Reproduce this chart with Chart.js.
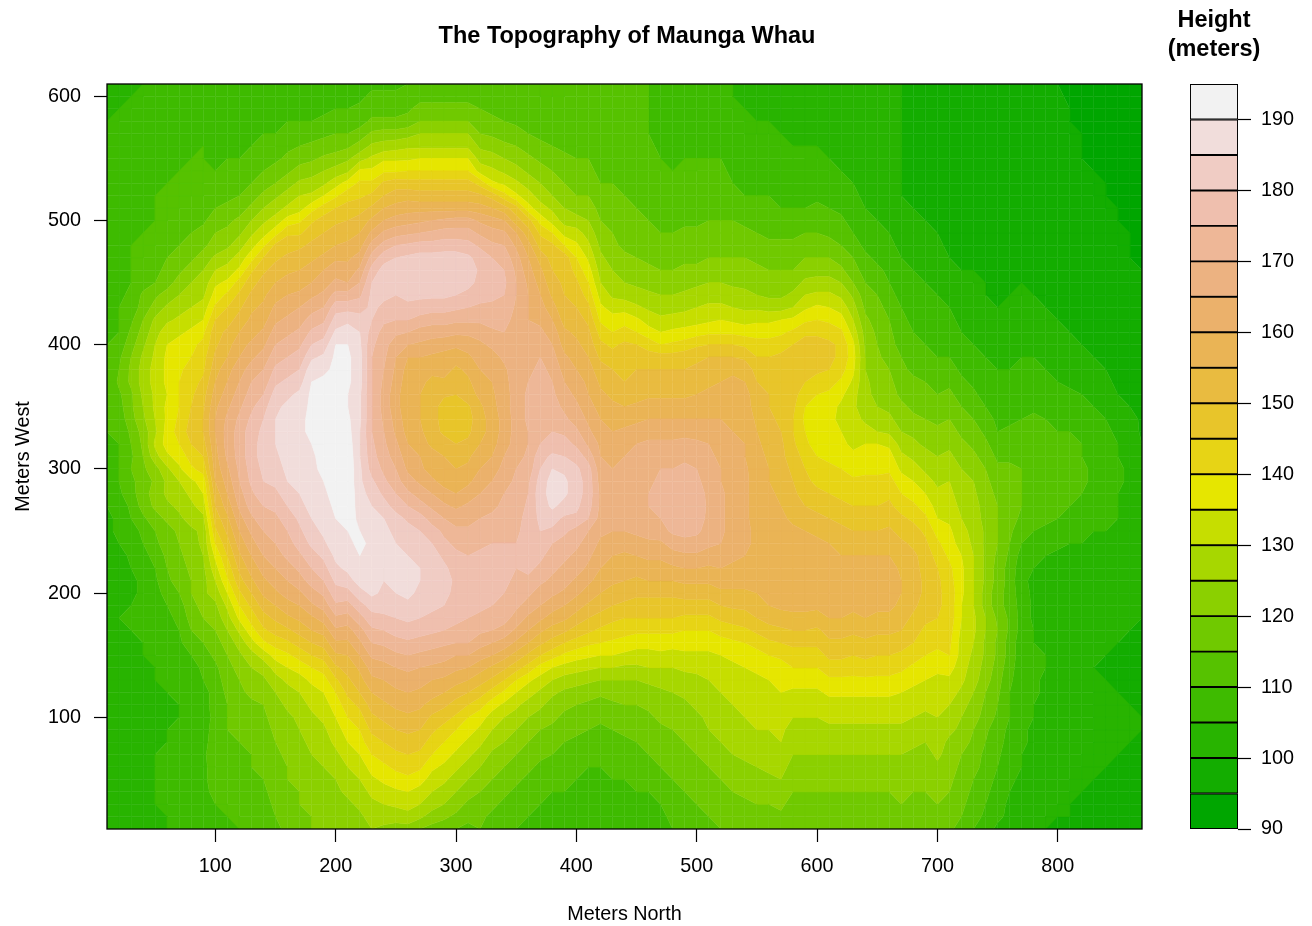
<!DOCTYPE html>
<html><head><meta charset="utf-8">
<style>html,body{margin:0;padding:0;background:#fff;width:1312px;height:926px;overflow:hidden}canvas{position:absolute;top:0}</style>
<script src="https://cdn.jsdelivr.net/npm/chart.js@4"></script>
</head><body>
<canvas id="map" width="1312" height="926" style="left:0"></canvas>
<canvas id="key" width="180" height="926" style="left:1124px"></canvas>
<script>
const northTicks=[100,200,300,400,500,600,700,800];
const westTicks=[100,200,300,400,500,600];
const keyTicks=[90,100,110,120,130,140,150,160,170,180,190];
const levels=[90,95,100,105,110,115,120,125,130,135,140,145,150,155,160,165,170,175,180,185,190,195];
const gridStep=10;
// one row per north position (10 m ... 870 m), one value per west position (10 m ... 610 m)
const heights=[
[100,100,101,101,101,101,101,100,100,100,101,101,102,102,102,102,103,104,103,102,101,101,102,103,104,104,105,107,107,107,108,108,110,110,110,110,110,110,110,110,108,108,108,107,107,108,108,108,108,108,107,107,107,107,106,106,105,105,104,104,103],
[101,101,102,102,102,102,102,101,101,101,102,102,103,103,103,103,104,105,104,103,102,102,103,105,106,106,107,109,110,110,110,110,111,112,113,114,116,115,114,112,110,110,110,109,108,109,109,109,109,108,108,108,108,107,107,106,106,105,105,104,104],
[102,102,103,103,103,103,103,102,102,102,103,103,104,104,104,104,105,106,105,104,104,105,106,107,108,110,111,113,114,115,114,115,116,118,119,119,121,121,120,118,116,114,112,111,110,110,110,110,109,109,109,109,108,108,107,107,106,106,105,105,104],
[103,103,104,104,104,104,104,103,103,103,103,104,104,104,105,105,106,107,106,106,106,107,108,110,111,114,117,118,117,119,120,121,122,124,125,126,127,127,126,124,122,120,117,116,113,111,110,110,110,109,109,109,109,108,108,107,107,106,106,105,105],
[104,104,105,105,105,105,105,104,104,103,104,104,105,105,105,106,107,108,108,108,109,110,112,114,115,118,121,122,121,123,128,131,129,130,131,131,132,132,131,130,128,126,122,119,115,114,112,110,110,110,110,110,109,109,108,107,107,107,106,106,105],
[105,105,105,106,106,106,106,105,105,104,104,105,105,106,106,107,108,109,110,112,114,115,116,117,118,121,124,126,126,129,134,137,137,136,136,135,136,136,136,135,133,129,126,122,118,116,115,113,111,110,110,110,110,109,108,108,108,107,107,106,106],
[105,106,106,107,107,107,107,106,106,105,105,106,106,107,108,109,110,111,113,115,117,118,119,120,121,124,126,128,130,134,137,140,142,141,140,140,140,139,138,137,134,131,128,125,122,119,117,115,113,111,110,110,110,110,109,109,108,108,107,107,106],
[106,107,107,108,108,108,108,107,107,106,106,107,108,108,110,113,115,117,118,120,120,121,122,123,124,127,129,131,134,139,142,145,147,146,145,144,143,142,140,139,136,133,130,127,125,122,119,117,115,113,111,110,110,110,110,109,109,108,108,107,107],
[107,108,108,109,109,109,109,108,108,107,108,108,110,111,113,115,118,120,122,124,123,124,125,126,126,129,132,135,137,142,145,148,150,150,149,148,146,144,143,141,139,135,132,129,127,125,122,119,117,114,112,110,110,110,110,110,109,109,108,107,107],
[108,109,110,111,112,112,113,113,112,112,112,112,113,114,116,118,120,122,124,127,130,133,136,140,144,147,150,152,155,157,158,159,160,160,159,157,155,153,151,149,148,145,141,137,134,130,126,122,120,118,115,113,112,110,109,108,108,107,107,107,107],
[109,110,110,111,111,112,113,114,115,115,115,116,117,118,120,122,125,128,131,135,139,142,145,148,151,154,157,160,162,164,166,167,167,166,164,162,160,158,155,153,151,148,145,141,136,132,128,124,121,119,116,114,112,111,110,109,108,108,107,107,107],
[110,110,111,112,112,113,114,115,116,117,118,119,120,122,124,127,131,136,140,144,148,151,154,157,160,163,166,168,170,171,172,172,172,171,169,167,165,163,160,158,155,152,149,146,142,136,132,128,124,121,118,115,113,112,110,109,108,108,108,107,107],
[110,111,112,113,114,115,115,116,117,118,119,121,123,125,128,133,138,142,146,150,154,157,160,163,166,169,172,174,176,177,178,178,178,176,174,172,170,167,164,161,158,156,154,151,148,144,138,133,129,125,121,118,115,113,111,110,109,108,108,107,107],
[111,112,113,114,115,116,116,117,118,119,120,122,124,127,132,139,144,148,152,156,159,162,165,168,170,173,175,178,180,181,182,182,181,180,178,175,172,170,167,164,161,158,156,154,152,149,145,139,133,129,125,121,118,115,113,111,110,109,108,108,108],
[114,115,116,117,118,118,119,120,121,122,123,125,128,132,137,142,147,151,155,159,162,165,168,170,172,174,176,179,181,183,184,185,185,185,184,182,179,176,173,170,167,164,161,158,155,152,149,146,138,132,128,124,120,117,114,112,110,109,108,108,108],
[116,117,118,119,120,120,121,122,123,124,126,128,131,135,139,144,149,154,158,162,165,168,171,173,175,177,180,182,185,186,187,188,188,188,186,184,181,178,175,172,169,166,163,160,157,154,151,148,144,137,131,127,123,119,116,114,111,110,109,108,108],
[118,119,120,120,121,122,123,124,125,126,128,130,133,137,142,147,152,156,160,164,168,171,174,177,179,181,183,185,186,187,188,189,189,189,188,186,183,180,177,174,171,168,165,161,158,155,152,149,144,139,133,130,126,122,118,115,112,110,109,108,108],
[120,120,121,122,123,124,125,126,128,129,131,133,136,140,145,150,155,159,164,168,172,175,178,181,183,185,187,188,188,189,189,190,191,191,191,191,190,188,184,180,176,172,168,164,160,157,154,151,148,144,138,131,127,123,119,116,113,110,109,108,108],
[120,121,122,123,124,125,126,128,129,131,133,135,138,142,147,152,157,162,167,171,175,178,181,184,186,187,188,189,190,191,192,192,192,192,192,191,191,189,186,182,178,174,170,166,163,160,156,153,150,147,142,135,129,125,121,117,114,111,109,108,108],
[121,122,123,124,125,127,129,131,133,135,137,140,144,149,154,159,164,169,174,178,181,184,186,188,188,190,191,192,193,194,195,195,195,194,193,192,192,191,191,190,186,182,178,172,166,163,159,155,152,149,145,139,133,127,122,118,115,112,110,109,108],
[122,123,124,126,128,130,132,135,137,140,143,146,149,152,155,159,163,168,173,178,183,186,188,189,190,192,193,194,194,194,194,193,192,191,190,190,191,191,191,190,187,184,178,172,165,162,159,156,153,150,147,143,137,129,124,119,115,112,110,109,109],
[123,124,126,128,130,132,135,138,140,143,146,150,153,156,160,164,168,173,178,183,187,188,190,191,190,189,188,187,186,186,185,185,185,186,186,186,187,187,187,186,185,182,178,174,170,166,162,158,155,152,148,144,141,136,128,122,117,113,111,109,109],
[125,127,129,131,134,137,140,143,146,149,152,155,159,162,166,170,174,178,182,186,188,188,189,189,188,187,185,183,181,178,177,176,175,175,175,175,175,175,175,176,178,180,181,181,180,177,172,167,161,156,151,146,141,136,131,126,121,116,113,111,109],
[124,127,130,133,136,139,142,145,148,151,154,157,160,163,167,171,175,179,182,184,185,185,186,186,186,185,182,179,176,174,172,171,170,169,168,168,169,170,171,172,173,176,179,181,182,182,178,172,166,160,155,150,146,139,134,127,122,116,113,111,109],
[123,127,131,134,138,141,144,147,150,153,156,159,162,165,169,173,177,180,183,185,186,186,186,185,184,182,178,175,172,170,168,166,164,163,162,162,163,164,165,167,171,175,178,180,182,182,180,175,168,162,157,152,148,139,134,128,122,116,113,111,109],
[123,128,132,135,139,142,145,148,151,154,157,160,163,166,170,174,178,181,184,186,186,186,185,184,182,179,175,171,167,164,162,160,158,157,156,156,157,158,160,165,170,175,179,181,183,183,181,176,169,163,158,153,147,140,134,129,123,117,114,112,110],
[120,126,130,133,137,141,144,147,150,153,156,159,162,165,169,173,177,180,183,184,185,185,184,182,180,177,172,168,164,161,160,157,156,155,155,155,156,158,160,164,168,173,178,181,183,184,182,177,170,164,158,152,147,140,135,129,125,120,117,113,111],
[118,123,127,130,133,136,140,143,146,149,153,157,160,164,168,172,176,179,181,182,183,183,182,180,177,173,169,165,161,158,157,154,152,153,153,154,154,156,159,163,167,172,177,181,183,184,182,177,171,165,158,152,147,140,135,129,125,120,117,113,111],
[117,121,125,128,131,134,137,140,143,147,151,155,159,163,167,171,175,178,180,181,182,181,179,176,174,170,166,162,158,156,155,152,149,147,147,151,154,157,158,162,167,172,177,181,183,184,182,178,172,166,158,152,147,140,135,129,125,120,117,113,111],
[115,119,122,125,128,131,134,137,140,144,148,152,157,161,165,170,174,176,178,179,179,178,176,174,171,168,164,160,157,155,153,150,147,145,146,150,153,154,157,161,166,171,176,180,182,184,182,178,172,167,158,152,147,140,135,129,125,120,117,113,111],
[114,116,119,122,125,128,131,134,137,140,145,150,155,160,165,170,173,175,177,178,178,177,175,173,171,168,166,162,159,156,154,151,149,148,149,153,154,156,159,162,166,171,175,179,181,183,181,177,172,167,158,152,147,140,135,129,125,120,117,113,111],
[115,116,118,120,122,125,128,131,134,137,142,147,152,157,162,167,171,174,176,177,177,177,176,174,172,170,167,165,162,160,158,155,153,153,154,156,158,160,162,164,167,171,174,177,179,179,178,174,169,164,157,151,143,133,128,124,120,117,115,113,111],
[113,114,116,118,120,122,124,127,130,133,137,143,149,154,160,165,170,173,175,176,177,177,176,175,173,171,169,167,165,162,160,158,157,157,158,159,160,161,163,166,169,172,174,176,177,177,175,171,167,162,155,148,136,131,127,123,119,116,114,112,111],
[111,112,114,116,118,120,122,125,127,130,134,139,145,151,157,163,168,172,174,175,176,176,176,175,174,172,171,170,168,167,165,163,162,162,163,163,163,164,166,168,170,172,174,175,176,175,173,170,166,160,152,142,134,129,125,121,118,115,113,112,110],
[110,111,112,114,116,118,120,122,125,128,131,135,140,147,153,159,164,168,171,173,174,175,175,175,174,173,172,172,171,170,168,167,167,167,167,167,168,168,168,168,168,168,169,170,170,169,167,164,160,152,147,136,131,127,123,120,117,114,113,111,110],
[109,110,111,112,114,116,118,120,122,125,128,132,136,143,149,155,160,164,168,171,174,176,177,177,177,177,176,175,174,172,171,170,170,171,171,171,170,169,168,167,166,165,165,165,164,162,160,157,152,147,137,132,128,124,121,118,115,113,112,111,110],
[108,109,110,111,112,114,116,118,120,123,126,129,133,138,145,151,156,161,165,168,171,174,176,178,180,181,182,183,182,180,178,175,173,172,172,172,172,171,170,168,166,164,162,160,158,156,153,148,144,138,132,128,125,122,119,116,114,112,111,110,110],
[108,108,109,110,111,113,115,117,119,121,123,126,130,135,142,148,153,158,162,166,169,171,173,175,179,182,186,187,187,185,181,177,175,173,172,171,170,169,167,165,163,160,157,154,152,150,148,146,140,133,129,125,122,120,118,115,113,112,111,110,110],
[107,108,109,110,111,112,113,115,117,119,121,124,128,133,139,145,151,156,160,164,167,169,171,173,176,179,183,186,186,184,180,177,174,171,169,167,165,163,161,158,156,153,151,150,149,149,148,140,133,128,125,122,120,118,116,114,113,112,111,110,110],
[107,107,108,109,110,111,112,114,116,118,120,123,127,132,137,143,148,153,157,161,164,167,169,171,173,179,181,182,182,181,178,174,171,168,166,164,162,160,158,156,154,152,150,148,146,143,140,136,132,127,123,120,118,116,115,114,113,112,112,112,112],
[106,107,108,108,109,110,112,113,115,117,119,122,126,131,136,141,146,150,154,158,161,164,166,168,170,175,177,178,178,177,173,169,166,164,162,160,159,157,155,153,151,149,146,143,140,137,134,131,128,125,123,120,118,116,115,114,113,113,112,112,111],
[105,106,107,108,109,110,111,113,114,116,118,121,125,130,135,140,144,148,152,155,158,160,162,164,166,168,169,169,168,167,165,164,162,160,158,156,154,152,149,146,143,139,136,133,130,128,126,124,122,120,118,117,115,114,113,113,112,112,112,111,111],
[105,106,107,108,110,111,112,113,115,117,119,122,125,130,135,139,143,146,150,153,156,158,160,162,165,167,167,167,166,165,163,162,160,158,156,154,152,150,147,144,140,137,133,129,127,125,123,121,120,118,117,116,115,114,113,112,112,112,111,111,111],
[105,106,107,109,110,112,113,114,116,118,120,122,125,129,134,138,142,145,149,152,155,157,159,162,165,167,168,168,167,166,165,163,161,158,155,152,150,149,148,146,142,138,133,128,125,123,121,119,118,117,116,115,114,113,112,112,112,112,111,111,111],
[106,107,108,110,111,112,114,115,117,119,120,122,125,129,133,137,141,145,148,151,154,157,160,163,166,168,169,169,168,167,166,165,162,159,156,153,151,150,148,145,140,136,131,127,124,122,120,118,117,116,115,114,113,112,112,112,112,111,111,111,111],
[107,108,109,110,112,113,115,116,118,119,121,123,126,130,133,137,141,145,148,151,155,158,161,164,167,169,170,170,169,168,167,166,163,160,157,154,152,150,147,143,137,133,129,126,123,121,119,118,116,115,114,113,112,111,111,111,110,110,110,110,110],
[108,109,110,112,113,115,116,118,119,121,122,124,127,130,134,137,141,145,148,151,155,158,161,164,168,170,172,172,171,170,168,166,163,160,157,154,152,150,147,140,135,131,128,125,122,120,118,117,115,114,113,112,111,110,110,109,109,109,109,109,109],
[110,111,112,113,115,116,118,119,120,122,123,125,127,130,133,137,141,145,148,151,155,159,163,167,171,173,174,173,172,170,168,166,163,160,157,154,152,150,147,141,136,132,128,125,122,120,118,116,115,114,113,112,111,110,109,109,108,108,108,107,107],
[112,113,114,115,116,118,119,120,122,123,124,126,128,131,134,137,140,144,148,152,156,160,164,168,172,174,175,174,173,171,169,167,163,160,157,154,152,150,148,142,137,132,129,126,123,121,119,117,116,114,113,112,111,110,110,109,108,108,107,107,107],
[113,114,115,116,118,119,120,122,123,124,126,127,129,131,134,137,140,144,148,152,156,160,164,168,171,172,173,172,171,170,168,166,163,160,158,155,153,151,149,144,138,133,130,127,124,121,119,117,116,114,113,112,111,110,110,109,108,108,107,106,106],
[114,115,116,118,119,120,122,123,125,126,127,129,130,132,134,137,140,144,148,152,156,159,163,166,168,169,169,169,168,167,166,165,162,160,158,156,154,152,150,145,139,134,131,128,125,122,120,118,116,115,114,113,112,111,110,109,109,108,107,106,105],
[115,116,117,119,120,122,123,125,126,128,129,130,131,133,135,138,142,146,150,154,157,160,163,165,166,166,166,166,165,165,164,163,161,160,159,157,155,153,150,145,139,135,131,128,125,122,120,118,116,115,114,113,112,111,110,109,108,107,106,106,105],
[115,116,118,120,121,123,125,126,128,129,130,131,133,134,136,139,143,147,151,154,157,159,161,162,163,163,163,163,163,163,162,161,160,159,158,158,156,154,150,145,139,134,130,127,124,122,120,118,116,115,113,112,110,109,108,107,106,106,105,105,105],
[116,117,119,121,122,124,126,127,129,130,131,132,133,135,137,140,144,148,151,154,157,159,160,161,161,161,161,161,161,161,160,160,159,158,157,157,155,153,149,144,138,133,129,126,124,122,120,118,116,114,112,110,109,108,107,106,105,105,105,104,104],
[116,118,120,122,123,125,127,128,130,131,132,133,134,136,138,142,146,150,153,155,157,158,159,159,159,158,158,158,158,157,157,156,155,154,153,152,150,148,145,142,138,134,129,125,123,121,119,117,115,114,112,110,109,108,107,106,105,105,104,104,104],
[117,118,120,122,124,126,128,129,130,132,133,134,135,137,140,144,148,152,155,157,158,159,159,159,158,157,156,156,155,155,154,153,152,151,150,150,149,148,145,142,138,134,128,124,122,120,118,116,114,113,111,110,109,108,107,106,105,105,104,104,103],
[117,119,121,123,125,127,128,130,131,132,134,135,136,138,141,145,149,153,156,158,159,159,159,158,157,156,155,154,153,152,151,151,150,149,149,149,149,148,146,143,139,135,128,124,122,120,118,116,114,112,110,109,108,107,106,105,105,104,104,103,103],
[116,117,118,120,122,123,125,126,128,130,132,134,137,140,143,146,150,154,156,158,159,159,159,158,156,154,152,151,150,149,148,146,145,145,146,147,148,148,147,145,141,136,130,126,123,120,118,116,114,112,110,109,108,107,106,105,104,104,103,103,103],
[116,117,118,120,122,123,125,126,128,130,132,134,137,140,143,146,150,154,156,158,159,159,158,157,155,153,150,148,146,145,143,141,140,139,140,142,145,147,148,147,144,139,134,130,126,123,120,117,115,113,110,109,108,107,105,105,104,104,103,103,103],
[116,117,118,120,122,123,125,126,128,130,132,134,137,140,143,146,149,153,156,158,158,158,157,156,154,151,149,146,144,142,140,138,137,137,138,140,143,146,147,147,144,140,136,131,127,123,120,117,115,113,111,109,108,107,105,105,104,104,103,103,102],
[116,118,119,120,121,123,125,126,129,131,133,136,139,143,146,149,152,155,157,158,158,157,156,155,153,150,148,145,143,141,139,137,136,136,137,139,142,145,146,146,143,139,135,131,127,123,120,117,114,112,110,108,107,106,105,104,104,103,103,102,102],
[116,118,119,120,121,123,125,126,129,131,133,136,139,143,146,149,152,155,157,158,158,157,155,153,151,149,146,144,142,140,138,136,135,134,134,136,139,142,144,144,141,137,133,129,125,121,118,115,113,111,109,108,106,105,104,104,103,103,102,102,101],
[116,118,119,120,121,123,125,126,129,131,133,136,139,142,145,148,151,154,156,157,158,157,155,153,150,148,145,143,141,138,136,134,133,132,131,132,134,136,137,136,133,130,127,124,120,117,115,112,110,108,107,106,105,104,103,103,102,102,101,101,101],
[116,118,119,120,121,123,125,126,129,131,133,136,139,143,146,149,152,155,157,158,158,157,155,153,150,147,145,143,141,139,137,135,132,129,127,126,126,125,125,124,123,121,119,117,115,113,111,109,107,106,105,104,103,103,102,102,101,101,101,101,101],
[117,118,119,120,122,123,125,127,129,131,133,136,139,142,145,148,151,154,156,157,158,157,155,153,150,147,145,143,141,139,137,135,130,127,125,124,123,122,121,120,119,118,116,115,113,111,109,107,106,105,104,103,103,102,102,101,101,101,101,101,101],
[117,118,119,120,122,123,125,127,129,131,133,136,139,142,145,148,151,154,156,157,158,157,155,153,151,148,146,144,142,139,137,134,129,126,124,122,121,120,118,117,116,115,114,112,110,109,107,106,105,104,103,102,102,101,101,101,101,101,101,101,100],
[117,118,120,122,123,124,125,127,129,131,133,135,138,141,144,147,150,152,154,155,155,154,153,151,148,146,143,140,137,134,131,128,125,123,121,119,118,116,115,113,112,111,110,108,107,106,105,104,103,102,101,100,100,100,100,100,100,100,100,100,100],
[117,118,119,120,121,123,124,126,128,130,132,134,136,139,142,145,147,149,151,152,152,152,151,149,147,144,141,138,135,132,129,126,124,121,119,117,116,114,113,111,110,109,108,107,106,105,104,103,102,101,100,99,98,98,98,98,98,98,98,98,98],
[117,118,119,120,121,122,123,125,127,129,131,133,135,137,140,142,144,146,148,149,149,148,148,146,144,141,138,135,132,129,127,124,122,120,118,116,115,113,112,110,109,108,107,106,105,104,103,102,101,100,99,98,98,98,97,97,97,97,97,97,97],
[117,118,120,121,122,124,126,127,128,130,131,133,134,136,139,141,143,145,146,146,146,145,143,141,138,135,133,131,129,127,125,123,121,119,117,115,113,112,110,109,108,107,106,105,104,103,102,101,100,99,98,98,97,97,97,97,96,96,96,96,96],
[116,118,119,120,121,122,123,124,126,128,130,132,134,137,140,141,142,143,143,143,142,141,139,137,136,134,132,131,130,128,126,124,122,120,118,116,114,112,110,108,107,106,105,104,103,102,100,99,99,98,97,97,96,96,96,96,96,96,96,96,96],
[113,115,116,117,118,119,120,122,124,125,127,129,131,132,133,133,134,135,135,136,136,136,135,133,131,130,129,128,127,125,123,121,119,117,115,113,111,109,107,106,105,104,103,102,101,100,99,99,98,97,97,96,96,96,96,96,96,96,96,96,96],
[110,112,113,114,115,116,117,119,120,122,123,125,127,128,129,130,131,131,130,130,130,130,130,129,129,128,127,126,125,123,121,119,117,115,113,111,109,107,106,105,104,103,102,101,100,100,99,99,98,98,97,97,97,96,96,96,96,96,96,96,96],
[107,109,110,111,112,114,114,115,116,118,119,120,122,123,124,124,125,125,123,123,124,124,124,124,124,123,123,122,121,120,118,116,114,112,110,108,107,106,105,104,103,102,101,100,100,99,99,98,98,97,97,97,96,96,96,96,96,96,96,96,96],
[104,106,107,108,109,110,111,112,112,114,115,116,117,118,119,119,120,119,117,117,118,118,119,120,120,120,120,119,118,116,114,112,110,109,108,107,106,105,104,103,102,101,100,99,99,98,98,97,97,97,96,96,96,96,96,96,96,96,96,96,96],
[103,104,104,105,106,107,107,108,109,110,110,110,111,112,113,113,114,114,113,113,113,113,114,115,116,117,118,118,117,116,114,113,111,109,108,107,106,105,104,103,102,101,100,100,99,98,98,97,97,97,96,96,96,96,96,96,96,96,96,96,96],
[101,102,103,104,104,105,105,106,106,107,107,107,107,107,107,107,108,108,108,107,106,107,108,110,112,114,115,115,115,115,114,113,112,110,109,108,107,106,105,104,103,102,101,100,100,99,98,98,97,97,97,96,96,96,96,96,96,96,96,96,96],
[100,101,101,102,102,103,103,104,104,105,105,106,106,106,106,105,105,104,104,104,104,105,106,108,110,112,113,114,114,114,114,113,112,111,109,108,107,106,105,104,103,102,101,100,99,99,98,98,97,97,96,96,96,96,96,96,96,96,96,96,96],
[100,100,101,101,101,102,102,102,103,103,104,104,104,105,105,104,104,103,103,103,103,104,105,107,109,111,112,113,113,113,113,112,111,110,108,107,106,105,104,103,102,101,100,99,99,98,98,97,97,96,96,96,96,96,96,96,96,96,96,96,96],
[99,100,100,101,101,101,102,102,102,102,102,103,103,103,103,103,103,103,103,103,103,103,104,106,108,110,111,112,112,112,112,111,110,109,107,106,105,104,103,102,101,100,99,99,98,98,97,97,97,96,96,96,96,96,96,96,96,96,96,96,95],
[99,100,100,100,100,101,101,101,101,102,102,102,102,102,102,102,102,102,102,102,102,102,104,105,107,109,110,111,112,112,112,111,110,108,107,106,104,103,102,101,100,99,99,98,98,97,97,97,96,96,96,96,96,96,96,96,95,95,95,94,94],
[98,99,99,100,100,100,100,101,101,101,101,101,101,101,101,101,101,101,101,102,102,102,104,105,106,108,109,110,111,111,110,110,109,107,106,105,103,102,101,100,99,99,98,98,97,97,97,96,96,96,96,96,96,96,95,95,95,94,94,94,94],
[98,98,99,99,100,100,100,100,100,100,100,100,100,100,101,101,101,101,101,101,101,102,103,104,105,107,108,109,109,109,109,108,107,106,105,103,102,101,100,99,98,98,97,97,97,96,96,96,96,96,96,95,95,95,94,94,94,94,94,94,94],
[97,98,98,99,99,100,100,100,100,100,100,100,100,99,100,100,101,101,101,101,101,101,103,104,105,106,107,107,108,108,107,106,106,105,103,102,101,100,99,98,97,97,97,96,96,96,96,96,96,96,95,95,95,94,94,94,94,94,94,94,94],
[97,97,98,98,99,99,100,100,100,100,100,100,99,99,99,100,101,101,101,101,101,101,102,103,104,105,105,105,106,106,105,105,104,103,102,100,99,99,98,97,97,97,96,96,96,96,96,95,95,95,95,94,94,94,94,94,94,94,94,94,94],
[97,97,97,98,98,99,99,100,100,100,100,99,99,99,99,99,100,101,101,101,101,101,102,103,103,104,104,104,104,104,104,104,103,102,100,99,99,98,97,97,97,96,96,96,96,96,95,95,95,94,94,94,94,94,94,94,94,94,94,94,94],
[96,96,97,97,98,98,99,99,100,100,99,98,98,98,98,99,99,100,100,100,100,101,101,101,101,101,102,102,102,102,101,100,99,99,98,98,97,97,96,96,96,96,95,95,95,95,94,94,94,94,94,94,93,93,93,93,93,93,93,93,93]
];
function hsvHex(h,s,v){const i=Math.floor(h*6)%6,f=h*6-Math.floor(h*6),p=v*(1-s),q=v*(1-s*f),t=v*(1-s*(1-f));
const c=[[v,t,p],[q,v,p],[p,v,t],[p,q,v],[t,p,v],[v,p,q]][i];return '#'+c.map(x=>Math.floor(x*255+.5).toString(16).padStart(2,'0')).join('')}
const palette=[];
for(let i=0;i<10;i++)palette.push(hsvHex(1/3-(1/6)*i/9,1,.65+.25*i/9));
for(let j=1;j<=11;j++)palette.push(hsvHex((1/6)*(1-j/11),1-j/11,.9+.05*j/11));
const FONT='"Liberation Sans",Arial,sans-serif';
function clip(poly,lev,keepAbove){const out=[];for(let i=0;i<poly.length;i++){const a=poly[i],b=poly[(i+1)%poly.length];
const ia=keepAbove?a.z>=lev:a.z<=lev,ib=keepAbove?b.z>=lev:b.z<=lev;if(ia)out.push(a);
if(ia!==ib){const t=(lev-a.z)/(b.z-a.z);out.push({x:a.x+t*(b.x-a.x),y:a.y+t*(b.y-a.y),z:lev})}}return out}
const bandData=palette.map(()=>[]);
const val=(r,c)=>{const row=heights[r];return row[Math.min(c,row.length-1)]};
for(let r=0;r<heights.length-1;r++)for(let c=0;c<60;c++){
 const X=i=>(i+1)*gridStep;
 const q=[{x:X(r),y:X(c),z:val(r,c)},{x:X(r+1),y:X(c),z:val(r+1,c)},{x:X(r+1),y:X(c+1),z:val(r+1,c+1)},{x:X(r),y:X(c+1),z:val(r,c+1)}];
 for(let b=0;b<palette.length;b++){let p=clip(q,levels[b],true);if(p.length>2)p=clip(p,levels[b+1],false);
  if(p.length>2){for(const v of p)bandData[b].push({x:v.x,y:v.y});bandData[b].push({x:null,y:null})}}
}
const fillBands={id:'fillBands',
 afterLayout(chart){const t=chart.titleBlock;if(t){t.left+=2.5;t.right+=2.5}},
 beforeDatasetsDraw(chart){const ctx=chart.ctx,a=chart.chartArea;ctx.save();ctx.beginPath();ctx.rect(a.left,a.top,a.width,a.height);ctx.clip();ctx.lineWidth=.45;ctx.lineJoin='round';
 chart.data.datasets.forEach((d,i)=>{const pts=chart.getDatasetMeta(i).data;ctx.fillStyle=d.backgroundColor;ctx.strokeStyle=d.backgroundColor;let open=false;
  for(const e of pts){if(e.skip||isNaN(e.x)||isNaN(e.y)){if(open){ctx.closePath();ctx.fill();ctx.stroke();open=false}continue}
   if(!open){ctx.beginPath();ctx.moveTo(e.x,e.y);open=true}else ctx.lineTo(e.x,e.y)}});ctx.restore()},
 afterDatasetsDraw(chart){const ctx=chart.ctx,a=chart.chartArea;ctx.save();ctx.strokeStyle='#000';ctx.lineWidth=1.3;ctx.strokeRect(a.left,a.top,a.width,a.height);ctx.restore()}};
const centerKeyTitle={id:'centerKeyTitle',afterLayout(chart){const t=chart.titleBlock;if(t){t.left-=33;t.right-=33}}};
const tickFont={family:FONT,size:19.8};
new Chart(document.getElementById('map'),{type:'scatter',plugins:[fillBands],
 data:{datasets:palette.map((col,i)=>({label:levels[i]+'-'+levels[i+1],data:bandData[i],backgroundColor:col,borderColor:col,pointRadius:0,pointHoverRadius:0,showLine:false}))},
 options:{responsive:false,devicePixelRatio:1,animation:false,events:[],layout:{padding:{left:0,right:170,top:0,bottom:0}},
  plugins:{legend:{display:false},tooltip:{enabled:false},title:{display:true,fullSize:false,text:'The Topography of Maunga Whau',color:'#000',font:{family:FONT,size:23.5,weight:'bold',lineHeight:1.2},padding:{top:22,bottom:33.8}}},
  scales:{
   x:{type:'linear',min:10,max:870,afterBuildTicks(s){s.ticks=northTicks.map(v=>({value:v}))},afterFit(s){s.height=97},
    grid:{drawOnChartArea:false,drawTicks:true,tickLength:13,tickColor:'#000',tickWidth:1.2},border:{display:false},
    ticks:{font:tickFont,color:'#000',padding:13,maxRotation:0,autoSkip:false,callback:v=>String(v)},
    title:{display:true,text:'Meters North',color:'#000',font:{family:FONT,size:19.8},padding:{top:0,bottom:0}}},
   y:{type:'linear',min:10,max:610,afterBuildTicks(s){s.ticks=westTicks.map(v=>({value:v}))},afterFit(s){s.width=107},
    grid:{drawOnChartArea:false,drawTicks:true,tickLength:13,tickColor:'#000',tickWidth:1.2},border:{display:false},
    ticks:{font:tickFont,color:'#000',padding:13,autoSkip:false,callback:v=>String(v)},
    title:{display:true,text:'Meters West',color:'#000',font:{family:FONT,size:19.8},padding:{top:12,bottom:0}}}
  }}});
new Chart(document.getElementById('key'),{type:'bar',plugins:[centerKeyTitle],
 data:{labels:['Height'],datasets:palette.map((col,i)=>({label:levels[i]+'-'+levels[i+1],data:[[levels[i],levels[i+1]]],backgroundColor:col,borderColor:'#000',borderWidth:1.3,borderSkipped:false,barPercentage:1,categoryPercentage:1,grouped:false}))},
 options:{responsive:false,devicePixelRatio:1,animation:false,events:[],layout:{padding:{left:66,right:0,top:0,bottom:97}},
  plugins:{legend:{display:false},tooltip:{enabled:false},title:{display:true,text:['Height','(meters)'],color:'#000',font:{family:FONT,size:23.5,weight:'bold',lineHeight:1.24},padding:{top:6,bottom:19.7}}},
  scales:{x:{display:false,stacked:true},
   y:{type:'linear',position:'right',min:90,max:195,afterBuildTicks(s){s.ticks=keyTicks.map(v=>({value:v}))},afterFit(s){s.width=66},
    grid:{drawOnChartArea:false,drawTicks:true,tickLength:13,tickColor:'#000',tickWidth:1.2},border:{display:false},
    ticks:{font:tickFont,color:'#000',padding:10,autoSkip:false,callback:v=>String(v)}}}}});
</script></body></html>
